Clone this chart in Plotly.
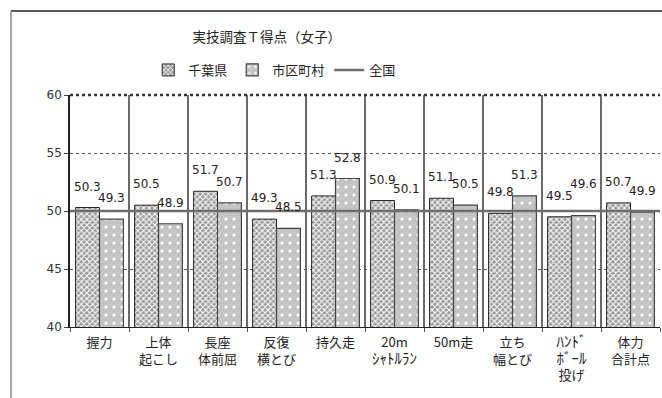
import plotly.graph_objects as go

HW = "<span style='font-size:15px'>{}</span>"
categories = ["握力", "上体<br>起こし", "長座<br>体前屈", "反復<br>横とび", "持久走",
              "20m<br>" + HW.format("ｼｬﾄﾙﾗﾝ"), "50m走", "立ち<br>幅とび",
              HW.format("ﾊﾝﾄﾞ") + "<br>" + HW.format("ﾎﾞｰﾙ") + "<br>投げ", "体力<br>合計点"]
chiba = [50.3, 50.5, 51.7, 49.3, 51.3, 50.9, 51.1, 49.8, 49.5, 50.7]
city = [49.3, 48.9, 50.7, 48.5, 52.8, 50.1, 50.5, 51.3, 49.6, 49.9]
national = [50, 50, 50, 50, 50, 50, 50, 50, 50, 50]
y_ticks = [40, 45, 50, 55, 60]

JP = "Noto Sans CJK JP"
NUM = "DejaVu Sans"

fig = go.Figure()
fig.add_trace(go.Bar(
    name="千葉県", x=categories, y=chiba,
    marker=dict(color="#a8a8a8", line=dict(color="#222", width=1),
                pattern=dict(shape="x", fgcolor="#ffffff", bgcolor="#9a9a9a",
                             size=4, solidity=0.45, fillmode="replace")),
))
fig.add_trace(go.Bar(
    name="市区町村", x=categories, y=city,
    marker=dict(color="#c4c4c4", line=dict(color="#444", width=1.2),
                pattern=dict(shape=".", fgcolor="#ffffff", bgcolor="#c4c4c4",
                             size=8, solidity=0.12, fillmode="replace")),
))
nx = list(range(len(national) + 1))
fig.add_trace(go.Scatter(
    name="全国", x=nx, y=national + [national[-1]], xaxis="x2", yaxis="y",
    mode="lines", line=dict(color="#6e6e6e", width=2.5, shape="hv"),
    hoverinfo="skip",
))

# data labels above each bar (Excel-style), lifted when neighbours collide
LABEL_GAP = 12
BAR_OFFSET = 12
for cat, a, b in zip(categories, chiba, city):
    lift_b = 11 if abs(a - b) < 0.5 else 0
    for v, xs, extra in ((a, -BAR_OFFSET, 0), (b, BAR_OFFSET, lift_b)):
        fig.add_annotation(x=cat, y=v, xref="x", yref="y", text=f"{v:.1f}",
                           showarrow=False, xanchor="center", yanchor="bottom",
                           xshift=xs, yshift=LABEL_GAP + extra,
                           font=dict(family=NUM, size=12, color="#222"))

fig.update_layout(
    width=662, height=398,
    margin=dict(l=70, r=2, t=95, b=71),
    paper_bgcolor="white", plot_bgcolor="white",
    barmode="group", bargap=0.19, bargroupgap=0,
    font=dict(family=JP, size=13, color="#222"),
    title=dict(text="実技調査Ｔ得点（女子）", x=0.403, xref="container", xanchor="center",
               y=1 - 37 / 398, yref="container", yanchor="middle",
               font=dict(family=JP, size=13.5, color="#222")),
    legend=dict(orientation="h", x=0.415, xref="container", xanchor="center",
                y=1 - 70 / 398, yref="container", yanchor="middle",
                font=dict(family=JP, size=13, color="#222"),
                itemwidth=30, traceorder="normal"),
    xaxis=dict(type="category", tickson="boundaries", showgrid=True,
               gridcolor="#6a6a6a", gridwidth=1.5,
               ticks="outside", ticklen=4, tickcolor="#555",
               showline=True, linecolor="#222", linewidth=1,
               ticklabelstandoff=3,
               tickfont=dict(family=JP, size=13, color="#222")),
    xaxis2=dict(overlaying="x", range=[0, len(national)], visible=False, fixedrange=True),
    yaxis=dict(range=[40, 60], tickvals=y_ticks, showgrid=True,
               gridcolor="#555", gridwidth=1, griddash="dot",
               ticks="outside", ticklen=4, tickcolor="#444",
               showline=True, linecolor="#222", linewidth=1.5,
               tickfont=dict(family=NUM, size=12, color="#333"), zeroline=False),
    showlegend=True,
)

# top border of plot area (dotted, thick) and outer chart frame
fig.add_shape(type="line", xref="paper", yref="paper", x0=0, x1=1, y0=1, y1=1,
              line=dict(color="#333", width=2.5, dash="dot"))
fig.add_shape(type="line", xref="paper", yref="paper", x0=-59 / 590, x1=1.01, y0=316 / 232, y1=316 / 232,
              line=dict(color="#222", width=1.5))
fig.add_shape(type="line", xref="paper", yref="paper", x0=-59 / 590, x1=-59 / 590, y0=316 / 232, y1=-0.35,
              line=dict(color="#888", width=1.5))

fig.write_html("out.html")
